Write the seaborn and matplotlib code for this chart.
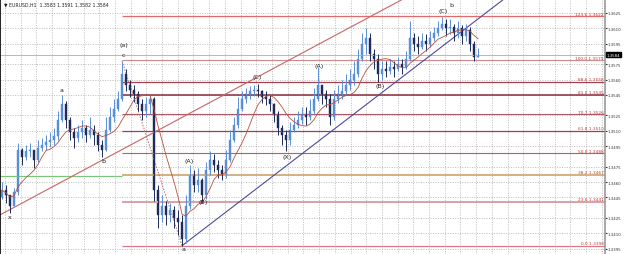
import numpy as np
import pandas as pd
import matplotlib
matplotlib.use("Agg")
import matplotlib.pyplot as plt
import seaborn as sns

# EURUSD H1 bars (one bar ~ 4 px)
highs = [1.3460, 1.3457, 1.3447, 1.3454, 1.3498, 1.3493, 1.3496, 1.3498, 1.3491, 1.3501,
         1.3503, 1.3506, 1.3509, 1.3513, 1.3529, 1.3545, 1.3539, 1.3523, 1.3513, 1.3516,
         1.3521, 1.3516, 1.3523, 1.3516, 1.3509, 1.3501, 1.3523, 1.3533, 1.3541, 1.3549,
         1.3578, 1.3570, 1.3560, 1.3555, 1.3549, 1.3541, 1.3543, 1.3544, 1.3543, 1.3457,
         1.3447, 1.3442, 1.3440, 1.3437, 1.3433, 1.3428, 1.3447, 1.3477, 1.3472, 1.3474,
         1.3464, 1.3480, 1.3490, 1.3487, 1.3482, 1.3477, 1.3491, 1.3511, 1.3523, 1.3543,
         1.3549, 1.3552, 1.3554, 1.3555, 1.3556, 1.3550, 1.3549, 1.3545, 1.3537, 1.3529,
         1.3516, 1.3511, 1.3519, 1.3523, 1.3529, 1.3533, 1.3533, 1.3541, 1.3552, 1.3572,
         1.3555, 1.3550, 1.3546, 1.3550, 1.3555, 1.3560, 1.3565, 1.3570, 1.3578, 1.3590,
         1.3605, 1.3610, 1.3605, 1.3590, 1.3585, 1.3578, 1.3578, 1.3580, 1.3578, 1.3582,
         1.3580, 1.3588, 1.3617, 1.3605, 1.3602, 1.3605, 1.3604, 1.3607, 1.3611, 1.3617,
         1.3621, 1.3619, 1.3619, 1.3614, 1.3617, 1.3613, 1.3614, 1.3611, 1.3598, 1.3591]
lows = [1.3444, 1.3440, 1.3430, 1.3437, 1.3447, 1.3477, 1.3482, 1.3484, 1.3474, 1.3480,
        1.3490, 1.3491, 1.3494, 1.3496, 1.3501, 1.3519, 1.3513, 1.3501, 1.3493, 1.3499,
        1.3503, 1.3499, 1.3503, 1.3496, 1.3490, 1.3484, 1.3490, 1.3509, 1.3519, 1.3529,
        1.3539, 1.3549, 1.3543, 1.3538, 1.3529, 1.3521, 1.3523, 1.3526, 1.3442, 1.3415,
        1.3421, 1.3418, 1.3421, 1.3415, 1.3408, 1.3398, 1.3401, 1.3434, 1.3450, 1.3450,
        1.3440, 1.3444, 1.3467, 1.3470, 1.3464, 1.3462, 1.3464, 1.3480, 1.3499, 1.3513,
        1.3529, 1.3537, 1.3541, 1.3544, 1.3543, 1.3537, 1.3535, 1.3529, 1.3519, 1.3506,
        1.3496, 1.3490, 1.3496, 1.3509, 1.3513, 1.3517, 1.3516, 1.3521, 1.3526, 1.3539,
        1.3536, 1.3533, 1.3516, 1.3521, 1.3537, 1.3541, 1.3546, 1.3550, 1.3555, 1.3562,
        1.3578, 1.3585, 1.3578, 1.3570, 1.3558, 1.3560, 1.3562, 1.3565, 1.3562, 1.3568,
        1.3565, 1.3570, 1.3578, 1.3588, 1.3585, 1.3590, 1.3588, 1.3592, 1.3598, 1.3602,
        1.3608, 1.3602, 1.3604, 1.3598, 1.3600, 1.3595, 1.3598, 1.3588, 1.3578, 1.3582]
closes = [1.3452, 1.3447, 1.3437, 1.3450, 1.3491, 1.3484, 1.3490, 1.3491, 1.3482, 1.3493,
          1.3496, 1.3499, 1.3501, 1.3505, 1.3521, 1.3536, 1.3521, 1.3509, 1.3503, 1.3509,
          1.3513, 1.3506, 1.3511, 1.3506, 1.3496, 1.3491, 1.3511, 1.3523, 1.3531, 1.3541,
          1.3565, 1.3555, 1.3550, 1.3546, 1.3536, 1.3529, 1.3536, 1.3541, 1.3452, 1.3428,
          1.3437, 1.3428, 1.3433, 1.3425, 1.3421, 1.3405, 1.3437, 1.3467, 1.3457, 1.3462,
          1.3447, 1.3472, 1.3482, 1.3477, 1.3472, 1.3467, 1.3482, 1.3501, 1.3516, 1.3531,
          1.3541, 1.3546, 1.3549, 1.3550, 1.3549, 1.3543, 1.3541, 1.3536, 1.3526, 1.3513,
          1.3506, 1.3501, 1.3511, 1.3516, 1.3521, 1.3526, 1.3523, 1.3529, 1.3541, 1.3555,
          1.3546, 1.3541, 1.3523, 1.3541, 1.3546, 1.3549, 1.3555, 1.3560, 1.3565, 1.3580,
          1.3595, 1.3600, 1.3585, 1.3580, 1.3565, 1.3570, 1.3568, 1.3572, 1.3570, 1.3575,
          1.3572, 1.3580, 1.3600, 1.3595, 1.3592, 1.3598, 1.3595, 1.3600, 1.3605, 1.3610,
          1.3614, 1.3610, 1.3611, 1.3605, 1.3610, 1.3602, 1.3608, 1.3595, 1.3582, 1.3584]
first_open = 1.3445

# Fibonacci retracement levels
fib_pct = ["0.0", "23.6", "38.2", "50.0", "61.8", "70.7", "81.0", "88.6", "100.0", "123.6"]
fib_price = [1.3398, 1.3441, 1.3467, 1.3488, 1.3510, 1.3526, 1.3545, 1.3558, 1.3579, 1.3622]
fib_colors = ["#d77a86", "#d8a0a4", "#c99a5e", "#b4606c", "#a33c4c", "#b25766",
              "#8a2a3a", "#a8404e", "#d08a8a", "#e26a6a"]
fib_widths = [0.9, 1.4, 1.1, 0.8, 0.9, 0.8, 1.1, 0.9, 0.8, 0.9]

# right-axis price ticks
tick_prices = [1.3625, 1.3610, 1.3595, 1.3575, 1.3560, 1.3545, 1.3525, 1.3510,
               1.3495, 1.3475, 1.3460, 1.3445, 1.3425, 1.3410, 1.3395]
last_price = 1.3584

# Elliott wave labels: (text, bar, price)
wave_text = ["x", "a", "b", "c", "(a)", "a", "(A)", "(B)", "(C)", "(X)", "(A)", "(B)", "(C)", "b"]
wave_bar = [1.8, 14.8, 25.3, 30.3, 30.5, 45.5, 46.8, 50.3, 63.8, 71.3, 79.3, 94.5, 110.3, 112.3]
wave_price = [1.3426, 1.3550, 1.3481, 1.3584, 1.3594, 1.3395, 1.3481, 1.3441, 1.3563, 1.3485,
              1.3574, 1.3554, 1.3627, 1.3633]

# trend lines: (bar, price) start / end
upper_line = ([-0.5, 100.0], [1.3428, 1.3638])
lower_line = ([45.0, 125.3], [1.3398, 1.3638])
zigzag = ([30.0, 45.0], [1.3578, 1.3398])
green_level = 1.3466

opens = [first_open] + closes[:-1]
df = pd.DataFrame({"open": opens, "high": highs, "low": lows, "close": closes})
df["bar"] = np.arange(len(df))
df["ma"] = df["close"].rolling(8, min_periods=1).mean()

sns.set_style("white")
plt.rcParams["font.family"] = ["DejaVu Sans"]

fig = plt.figure(figsize=(6.25, 2.55), dpi=100)
ax = fig.add_axes([0, 0, 605 / 625, 1])
x_max = 150.7
ax.set_xlim(-0.5, x_max)
ax.set_ylim(1.33899, 1.36385)

# grid
ax.set_xticks(np.arange(0.75, x_max, 3.925))
ax.set_yticks(tick_prices)
ax.grid(True, color="#a8a8a8", linestyle=(0, (1.5, 2)), lw=0.5)
ax.set_axisbelow(True)

# level lines
ax.hlines(last_price, -0.5, x_max, color="#b8b8b8", lw=0.7)
ax.hlines(green_level, -0.5, 30, color="#7cc47c", lw=0.9)
for pct, p, c, w in zip(fib_pct, fib_price, fib_colors, fib_widths):
    ax.hlines(p, 30, x_max, color=c, lw=w)
    ax.annotate(f"{pct} {p:.4f}", (x_max, p), xytext=(-1, 0.3), textcoords="offset points",
                ha="right", va="bottom", fontsize=3.1, color="#c23a3a")

# trend lines
ax.plot(*upper_line, color="#c86464", lw=0.8)
ax.plot(*lower_line, color="#4c4c9c", lw=0.8)
ax.plot(*zigzag, color="#b86a5a", lw=0.7, linestyle=(0, (1.5, 1.5)))

# candles
up = df["close"] >= df["open"]
colors = np.where(up, "#5a8fd6", "#1f2b58")
ax.vlines(df["bar"], df["low"], df["high"], colors=colors, lw=0.7)
body = (df["close"] - df["open"]).abs().clip(lower=0.00012)
ax.bar(df["bar"], body, bottom=df[["open", "close"]].min(axis=1), width=0.65,
       color=colors, edgecolor=colors, lw=0.3)

# moving average
sns.lineplot(data=df, x="bar", y="ma", ax=ax, color="#b8503c", lw=0.6)

for t, b, p in zip(wave_text, wave_bar, wave_price):
    ax.text(b, p, t, fontsize=4.6, ha="center", va="center", color="#222222")

ax.text(0.5, 1.3634, "\u25bc EURUSD,H1  1.3583 1.3591 1.3582 1.3584", fontsize=3.3,
        ha="left", va="center", color="#222222")

# axes styling
ax.yaxis.tick_right()
ax.tick_params(axis="y", labelsize=2.8, length=1.2, pad=0.8, colors="#333333")
ax.tick_params(axis="x", labelbottom=False, length=0)
ax.set_yticklabels([f"{v:.4f}" for v in tick_prices])
ax.set_xlabel("")
ax.set_ylabel("")
for s in ["top", "bottom"]:
    ax.spines[s].set_visible(False)
ax.spines["left"].set_color("#000000")
ax.spines["left"].set_linewidth(1.2)
ax.spines["right"].set_color("#9a9a9a")
ax.spines["right"].set_linewidth(1.2)

ax.annotate(f"{last_price:.4f}", (1.0, last_price), xycoords=("axes fraction", "data"),
            xytext=(1.3, 0), textcoords="offset points", ha="left", va="center",
            fontsize=2.8, color="white",
            bbox=dict(boxstyle="square,pad=0.12", fc="black", ec="black"))

fig.savefig("out.png", dpi=100)
